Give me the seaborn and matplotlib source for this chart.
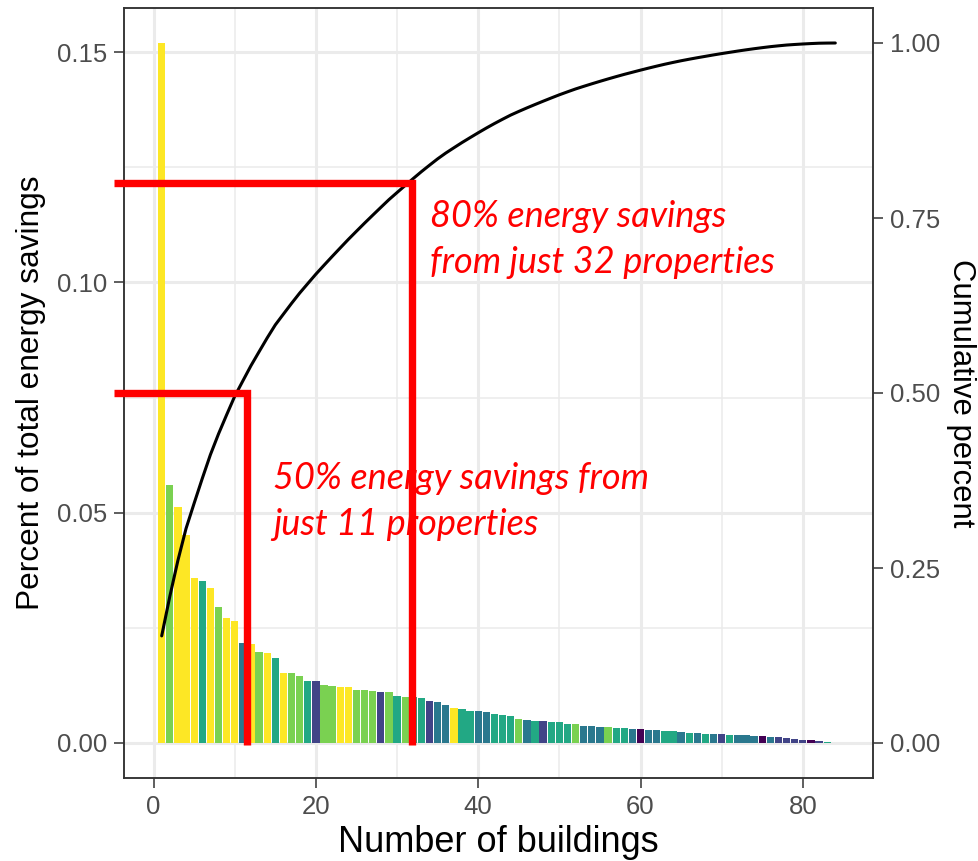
import numpy as np
import pandas as pd
import matplotlib
matplotlib.use('Agg')
import matplotlib.pyplot as plt
from matplotlib.ticker import FixedLocator, FormatStrFormatter
import seaborn as sns

# share of total energy savings per building, largest first
savings_share = [
    0.1520, 0.0560, 0.0512, 0.0452, 0.0359, 0.0351, 0.0337, 0.0295, 0.0271, 0.0264,
    0.0218, 0.0216, 0.0198, 0.0196, 0.0185, 0.0153, 0.0152, 0.0146, 0.0135, 0.0134,
    0.0126, 0.0124, 0.0122, 0.0121, 0.0116, 0.0115, 0.0112, 0.0111, 0.0110, 0.0101,
    0.0100, 0.0099, 0.0097, 0.0092, 0.0090, 0.0082, 0.0075, 0.0074, 0.0070, 0.0069,
    0.0067, 0.0064, 0.0061, 0.0059, 0.0052, 0.0050, 0.0048, 0.0047, 0.0046, 0.0045,
    0.0042, 0.0041, 0.0037, 0.0036, 0.0035, 0.0034, 0.0033, 0.0032, 0.0030, 0.0030,
    0.0029, 0.0028, 0.0027, 0.0025, 0.0024, 0.0022, 0.0021, 0.0020, 0.0020, 0.0019,
    0.0018, 0.0018, 0.0017, 0.0016, 0.0015, 0.0014, 0.0012, 0.0011, 0.0008, 0.0007,
    0.0006, 0.0005, 0.0002, 0.0001,
]

# building type code (0-5) of each bar
building_type = [
    5, 4, 5, 5, 5, 3, 5, 4, 5, 5,
    2, 5, 4, 5, 3, 5, 4, 4, 3, 1,
    4, 4, 5, 5, 4, 4, 4, 1, 4, 3,
    4, 3, 3, 1, 2, 2, 5, 3, 3, 2,
    2, 3, 3, 3, 4, 2, 3, 1, 3, 3,
    3, 4, 2, 2, 2, 4, 3, 3, 2, 0,
    2, 2, 3, 3, 2, 3, 2, 3, 2, 1,
    3, 2, 2, 2, 0, 2, 1, 1, 1, 1,
    0, 1, 3, 3,
]
type_names = ['t1', 't2', 't3', 't4', 't5', 't6']
type_colors = ['#440154', '#414487', '#2A788E', '#22A884', '#7AD151', '#FDE725']

x_major = [0, 20, 40, 60, 80]
x_minor = [10, 30, 50, 70]
left_major = [0.00, 0.05, 0.10, 0.15]
left_minor = [0.025, 0.075, 0.125]
right_major = [0.00, 0.25, 0.50, 0.75, 1.00]

# red guide lines (cumulative share, x of the drop) and their notes
thresholds = [0.5, 0.8]
cut_positions = [11.45, 31.85]
notes = ['50% energy savings from\njust 11 properties',
         '80% energy savings\nfrom just 32 properties']
note_x = [14.7, 34.0]
note_y = [0.297, 0.671]   # baseline of the second line

df = pd.DataFrame({
    'building': np.arange(1, len(savings_share) + 1),
    'share': savings_share,
    'type': [type_names[t] for t in building_type],
})
df['cum'] = df['share'].cumsum() / df['share'].sum()

sns.set_style('white')
plt.rcParams['font.family'] = ['Liberation Sans', 'DejaVu Sans']

fig = plt.figure(figsize=(9.79, 8.61), dpi=100)
ax = fig.add_axes([124 / 979, 1 - 778 / 861, 749 / 979, 770 / 861])

sns.barplot(data=df, x='building', y='share', hue='type', hue_order=type_names,
            palette=dict(zip(type_names, type_colors)), native_scale=True,
            dodge=False, width=0.9, linewidth=0, saturation=1,
            errorbar=None, legend=False, ax=ax, zorder=2)

# ggplot-like 5% expansion
lo, hi = 1 - 0.45, len(df) + 0.45
pad = 0.05 * (hi - lo)
ax.set_xlim(lo - pad, hi + pad)
top = df['share'].max()
ax.set_ylim(-0.05 * top, 1.05 * top)

grid_col = '#EBEBEB'
ax.xaxis.set_major_locator(FixedLocator(x_major))
ax.xaxis.set_minor_locator(FixedLocator(x_minor))
ax.yaxis.set_major_locator(FixedLocator(left_major))
ax.yaxis.set_minor_locator(FixedLocator(left_minor))
ax.yaxis.set_major_formatter(FormatStrFormatter('%.2f'))
ax.xaxis.set_major_formatter(FormatStrFormatter('%d'))
ax.grid(which='major', color=grid_col, linewidth=2.2, zorder=0)
ax.grid(which='minor', color=grid_col, linewidth=1.1, zorder=0)
ax.set_axisbelow(True)

ax2 = ax.twinx()
sns.lineplot(data=df, x='building', y='cum', ax=ax2, color='black',
             linewidth=2.2, errorbar=None)
ax2.set_ylim(ax.get_ylim()[0] / top, ax.get_ylim()[1] / top)
ax2.yaxis.set_major_locator(FixedLocator(right_major))
ax2.yaxis.set_major_formatter(FormatStrFormatter('%.2f'))
ax2.grid(False)

for a in (ax, ax2):
    for s in a.spines.values():
        s.set_color('#333333')
        s.set_linewidth(1.1)
    a.tick_params(which='major', length=7.2, width=1.1, color='#333333',
                  labelcolor='#4D4D4D', labelsize=18.5, pad=5)
    a.tick_params(which='minor', length=0)
ax.tick_params(axis='both', which='major', left=True, bottom=True)
ax2.tick_params(axis='y', which='major', right=True)

ax.set_xlabel('Number of buildings', fontsize=26, color='black', labelpad=4)
ax.set_ylabel('Percent of total energy savings', fontsize=22.8, color='black', labelpad=8)
ax2.set_ylabel('Cumulative percent', fontsize=22.4, color='black',
               rotation=-90, va='bottom', labelpad=4)

# red guide lines and notes
x_start = lo - pad - 1.2
for thr, cut, note, nx, ny in zip(thresholds, cut_positions, notes, note_x, note_y):
    ax2.plot([x_start, cut, cut], [thr, thr, -0.003], color='red', linewidth=5.3,
             solid_joinstyle='miter', solid_capstyle='butt', clip_on=False, zorder=5)
    ax2.text(nx, ny, note, color='red', fontsize=26, fontstyle='italic',
             family=['Lato', 'DejaVu Sans'], ha='left', va='baseline',
             linespacing=1.48, zorder=6)

fig.savefig('out.png', dpi=100)
